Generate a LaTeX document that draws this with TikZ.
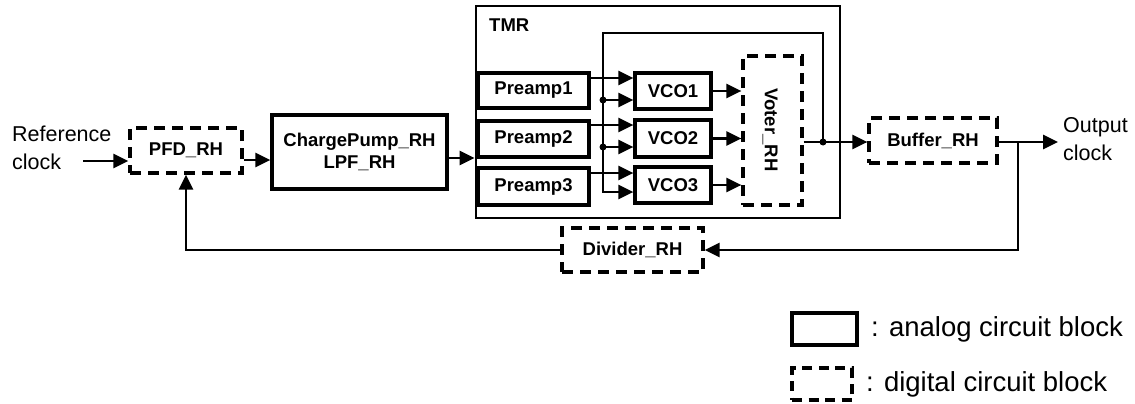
\documentclass[tikz,border=0pt]{standalone}
\usepackage{fontspec}
\setmainfont{Liberation Sans}
\usetikzlibrary{arrows.meta,calc}
\begin{document}
\begin{tikzpicture}[x=1pt,y=-1pt,
  lbl/.style={font=\bfseries\fontsize{18.5}{22}\selectfont},
  blk/.style={draw, line width=3.2pt, inner sep=0pt, lbl, align=center},
  dblk/.style={blk, dash pattern=on 11pt off 7pt},
  arr/.style={line width=2.6pt, -{Triangle[length=15pt,width=14pt]}},
  dot/.style={circle, fill, inner sep=0pt, minimum size=7pt},
  txt/.style={font=\fontsize{21.5}{28}\selectfont, align=left, inner sep=0pt},
  legtxt/.style={font=\fontsize{27.5}{30}\selectfont, inner sep=0pt}]
\useasboundingbox (0,0) rectangle (1135,404);

% blocks
\node[dblk, minimum width=112pt, minimum height=45pt] (pfd) at (186,150.5) {PFD\_RH};
\node[blk, minimum width=175pt, minimum height=74pt] (cp) at (359.5,152) {ChargePump\_RH\\LPF\_RH};
\node[draw, line width=2.8pt, inner sep=0pt, minimum width=364pt, minimum height=212pt] (tmr) at (658,112) {};
\node[lbl, anchor=west, inner sep=0pt] (tmrlbl) at (489,25) {TMR};
\node[blk, minimum width=111pt, minimum height=35pt] (p1) at (533.5,90.5) {Preamp1};
\node[blk, minimum width=111pt, minimum height=36pt] (p2) at (533.5,139) {Preamp2};
\node[blk, minimum width=111pt, minimum height=37pt] (p3) at (533.5,186.5) {Preamp3};
\node[blk, minimum width=76pt, minimum height=36pt] (v1) at (673,91) {VCO1};
\node[blk, minimum width=76pt, minimum height=37pt] (v2) at (673,138.5) {VCO2};
\node[blk, minimum width=76pt, minimum height=36pt] (v3) at (673,185) {VCO3};
\node[dblk, minimum width=59pt, minimum height=149pt] (voter) at (772.5,130.5) {};
\node[lbl, rotate=-90] (votertxt) at (770,130) {Voter\_RH};
\node[dblk, minimum width=128pt, minimum height=45pt] (buf) at (933,140.5) {Buffer\_RH};
\node[dblk, minimum width=141pt, minimum height=44pt] (div) at (632.5,250) {Divider\_RH};

% texts
\node[txt, anchor=west] (ref) at (12,147.5) {Reference\\clock};
\node[txt, anchor=west] (outl) at (1063,139.5) {Output\\clock};

% coordinates
\coordinate (refin) at (83,161);
\coordinate (j) at (823,142);
\coordinate (loopL) at (603,33);
\coordinate (d1) at (603,100);
\coordinate (d2) at (603,147);
\coordinate (br) at (1018,142);
\coordinate (out) at (1058,142);

% connectors
\draw[arr] (refin) -- (pfd.west |- refin);
\draw[arr] ([yshift=-9.5pt]pfd.east) -- (cp.west |- 0,160);
\draw[arr] (cp.east |- 0,158) -- (tmr.west |- 0,158);
\draw[arr] (p1.east |- 0,78) -- (v1.west |- 0,78);
\draw[arr] (p2.east |- 0,125) -- (v2.west |- 0,125);
\draw[arr] (p3.east |- 0,173) -- (v3.west |- 0,173);
\draw[arr] (v1.east) -- (voter.west |- v1.east);
\draw[arr] (v2.east) -- (voter.west |- v2.east);
\draw[arr] (v3.east) -- (voter.west |- v3.east);
\draw[arr] (voter.east |- j) -- (buf.west |- j);
\draw[arr] (j) |- (loopL) |- (v3.west |- 0,192);
\draw[arr] (d1) -- (v1.west |- d1);
\draw[arr] (d2) -- (v2.west |- d2);
\node[dot] (dj) at (j) {};
\node[dot] (dd1) at (d1) {};
\node[dot] (dd2) at (d2) {};
\draw[arr] (buf.east |- j) -- (out);
\draw[arr] (br) |- (div.east);
\draw[arr] (div.west) -| (pfd.south);

% legend
\node[draw, line width=3.2pt, inner sep=0pt, minimum width=65pt, minimum height=32pt] (lga) at (824.5,329) {};
\node[draw, line width=3.2pt, inner sep=0pt, dash pattern=on 10pt off 6.5pt, minimum width=60pt, minimum height=32pt] (lgd) at (822,384) {};
\node[legtxt, anchor=west] (lgat) at (871,329) {: analog circuit block};
\node[legtxt, anchor=west] (lgdt) at (866,384) {: digital circuit block};
\end{tikzpicture}
\end{document}
